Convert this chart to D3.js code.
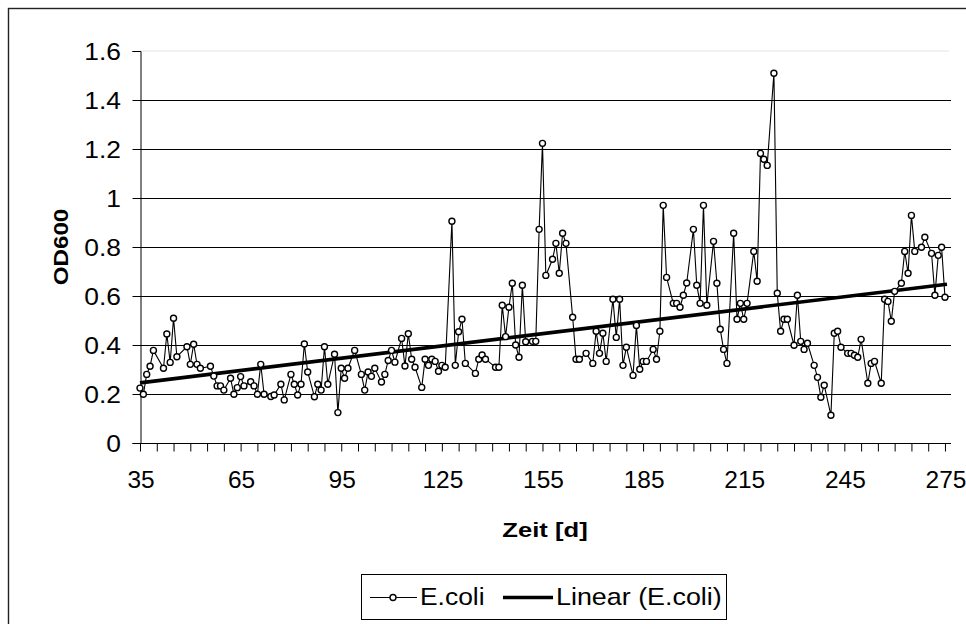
<!DOCTYPE html>
<html><head><meta charset="utf-8">
<script src="https://cdn.jsdelivr.net/npm/d3@7"></script>
<style>
body{margin:0;background:#fff}
svg{display:block}
text{font-family:"Liberation Sans",Arial,Helvetica,sans-serif;fill:#000}
</style>
</head><body>
<svg id="chart" width="966" height="624"></svg>
<script>
// ---- data ----
const days = [35,36,37,38,39,42,43,44,45,46,49,50,51,52,53,56,57,58,59,60,62,63,64,65,66,68,69,70,71,72,74,75,77,78,80,81,82,83,84,85,87,88,89,90,91,93,94,95,96,97,99,
101,102,103,104,105,107,108,109,110,111,113,114,115,116,117,119,120,121,122,123,124,125,126,128,129,130,131,132,135,136,137,138,141,142,143,144,145,146,147,148,149,150,152,153,154,155,156,158,159,160,161,162,164,165,166,168,170,171,172,173,174,176,177,178,179,180,182,183,184,185,186,188,189,190,191,192,194,195,196,197,198,200,201,202,203,204,206,207,208,209,210,212,213,214,215,216,218,219,220,221,222,224,225,226,227,228,230,231,232,233,234,236,237,238,239,241,242,243,244,246,247,248,249,250,252,253,254,256,257,258,259,260,262,263,264,265,266,268,269,271,272,273,274,275];
const od = [0.224,0.199,0.280,0.313,0.378,0.305,0.445,0.329,0.509,0.352,0.393,0.321,0.403,0.321,0.305,0.313,0.273,0.233,0.233,0.216,0.264,0.199,0.226,0.271,0.233,0.250,0.233,0.199,0.321,0.199,0.190,0.196,0.240,0.176,0.280,0.240,0.196,0.240,0.404,0.290,0.189,0.240,0.216,0.393,0.240,0.362,0.124,0.305,0.264,0.305,0.378,
0.280,0.216,0.290,0.272,0.305,0.249,0.280,0.337,0.378,0.330,0.427,0.314,0.446,0.342,0.309,0.227,0.342,0.317,0.342,0.333,0.293,0.317,0.309,0.905,0.317,0.454,0.505,0.325,0.284,0.342,0.359,0.342,0.309,0.309,0.562,0.434,0.554,0.652,0.400,0.350,0.644,0.413,0.415,0.415,0.872,1.223,0.684,0.750,0.815,0.693,0.856,0.815,0.513,0.342,0.342,0.366,0.325,0.456,0.366,0.448,0.333,0.587,0.431,0.587,0.317,0.391,0.276,0.480,0.301,0.333,0.333,0.382,0.342,0.456,0.970,0.676,0.570,0.570,0.554,0.603,0.653,0.872,0.644,0.570,0.970,0.562,0.823,0.652,0.464,0.382,0.325,0.856,0.505,0.570,0.505,0.570,0.782,0.660,1.182,1.158,1.133,1.509,0.611,0.456,0.505,0.505,0.399,0.603,0.415,0.382,0.407,0.317,0.268,0.187,0.236,0.113,0.448,0.456,0.391,0.366,0.366,0.358,0.350,0.423,0.244,0.325,0.333,0.244,0.587,0.578,0.497,0.619,0.652,0.782,0.693,0.929,0.782,0.799,0.840,0.774,0.603,0.766,0.799,0.595];
const yTicks = [0,0.2,0.4,0.6,0.8,1,1.2,1.4,1.6];
const yTickLabels = ["0","0.2","0.4","0.6","0.8","1","1.2","1.4","1.6"];
const xLabelDays = [35,65,95,125,155,185,215,245,275];
const xMinorStep = 5;
const seriesName = "E.coli";
const trendName = "Linear (E.coli)";
const xTitle = "Zeit [d]";
const yTitle = "OD600";

// ---- layout ----
const svg = d3.select("#chart");
const L = 140, R = 951, T = 51, B = 443;
const x = d3.scaleLinear().domain([35, 276.8]).range([L, R]);
const y = d3.scaleLinear().domain([0, 1.6]).range([B, T]);
const SX = 1.1;
const FS = 24;

function stext(g, px, py, str, o) {
  o = o || {};
  const t = g.append("text")
    .attr("transform", `translate(${px},${py})` + (o.rot ? ` rotate(${o.rot})` : "") + ` scale(${o.sx || SX},1)`)
    .attr("text-anchor", o.anchor || "start")
    .style("font-size", (o.fs || FS) + "px")
    .style("font-weight", o.bold ? "bold" : "normal")
    .text(str);
  return t;
}

// outer border
svg.append("rect").attr("x", 8.5).attr("y", 8.5).attr("width", 975).attr("height", 640)
  .attr("fill", "none").attr("stroke", "#222").attr("stroke-width", 1.4);

// plot top border (faint)
svg.append("line").attr("x1", L).attr("x2", R - 2).attr("y1", y(1.6)).attr("y2", y(1.6))
  .attr("stroke", "#e4e4e4").attr("stroke-width", 1);

// gridlines
svg.append("g").selectAll("line").data(yTicks.filter(v => v > 0 && v < 1.6)).join("line")
  .attr("x1", L).attr("x2", R).attr("y1", d => Math.round(y(d)) + 0.5).attr("y2", d => Math.round(y(d)) + 0.5)
  .attr("stroke", "#000").attr("stroke-width", 1);

// y axis
const yAxis = d3.axisLeft(y).tickValues(yTicks).tickSize(8).tickFormat((d, i) => yTickLabels[i]);
const gy = svg.append("g").attr("transform", `translate(${L + 0.5},0)`).call(yAxis);
gy.select(".domain").attr("stroke", "#000");
gy.selectAll(".tick line").attr("stroke", "#000");
gy.selectAll(".tick text").remove();
yTicks.forEach((v, i) => stext(svg, 121, y(v) + 8.5, yTickLabels[i], {anchor: "end"}));

// x axis
const minor = d3.range(35, 276, xMinorStep);
const xAxis = d3.axisBottom(x).tickValues(minor).tickSize(8).tickFormat("");
const gx = svg.append("g").attr("transform", `translate(0,${Math.round(B) + 0.5})`).call(xAxis);
gx.select(".domain").attr("stroke", "#000").attr("d", `M${L},0H${R}`);
gx.selectAll(".tick line").attr("stroke", "#000");
xLabelDays.forEach(d => stext(svg, x(d) + 1, 488, String(d), {anchor: "middle", sx: 1.02}));

// titles
stext(svg, 545, 537, xTitle, {anchor: "middle", bold: true, fs: 21, sx: 1.22});
stext(svg, 68, 247, yTitle, {anchor: "middle", bold: true, fs: 21, rot: -90, sx: 1.15});

// trendline (least squares)
const n = days.length;
const mx = d3.mean(days), my = d3.mean(od);
let sxy = 0, sxx = 0;
for (let i = 0; i < n; i++) { sxy += (days[i] - mx) * (od[i] - my); sxx += (days[i] - mx) ** 2; }
const slope = sxy / sxx, icpt = my - slope * mx;
const x0 = d3.min(days), x1 = d3.max(days);

// series
const pts = days.map((d, i) => [d, od[i]]);
svg.append("path").datum(pts)
  .attr("d", d3.line().x(p => x(p[0])).y(p => y(p[1])))
  .attr("fill", "none").attr("stroke", "#000").attr("stroke-width", 1.1);

svg.append("line").attr("x1", x(x0)).attr("y1", y(icpt + slope * x0))
  .attr("x2", x(x1) + 2).attr("y2", y(icpt + slope * (x1 + 0.6)))
  .attr("stroke", "#000").attr("stroke-width", 3.6);

svg.append("g").selectAll("circle").data(pts).join("circle")
  .attr("cx", p => x(p[0])).attr("cy", p => y(p[1])).attr("r", 3)
  .attr("fill", "#fff").attr("stroke", "#000").attr("stroke-width", 1.4);

// legend
const lg = svg.append("g");
lg.append("rect").attr("x", 361.5).attr("y", 574.5).attr("width", 365).attr("height", 45)
  .attr("fill", "#fff").attr("stroke", "#000").attr("stroke-width", 1);
lg.append("line").attr("x1", 370).attr("x2", 417).attr("y1", 597.5).attr("y2", 597.5)
  .attr("stroke", "#000").attr("stroke-width", 1.1);
lg.append("circle").attr("cx", 393).attr("cy", 597.5).attr("r", 3)
  .attr("fill", "#fff").attr("stroke", "#000").attr("stroke-width", 1.4);
stext(lg, 420, 605, seriesName, {});
lg.append("line").attr("x1", 503).attr("x2", 553).attr("y1", 597.5).attr("y2", 597.5)
  .attr("stroke", "#000").attr("stroke-width", 3.6);
stext(lg, 556, 605, trendName, {sx: 1.12});
</script>
</body></html>
